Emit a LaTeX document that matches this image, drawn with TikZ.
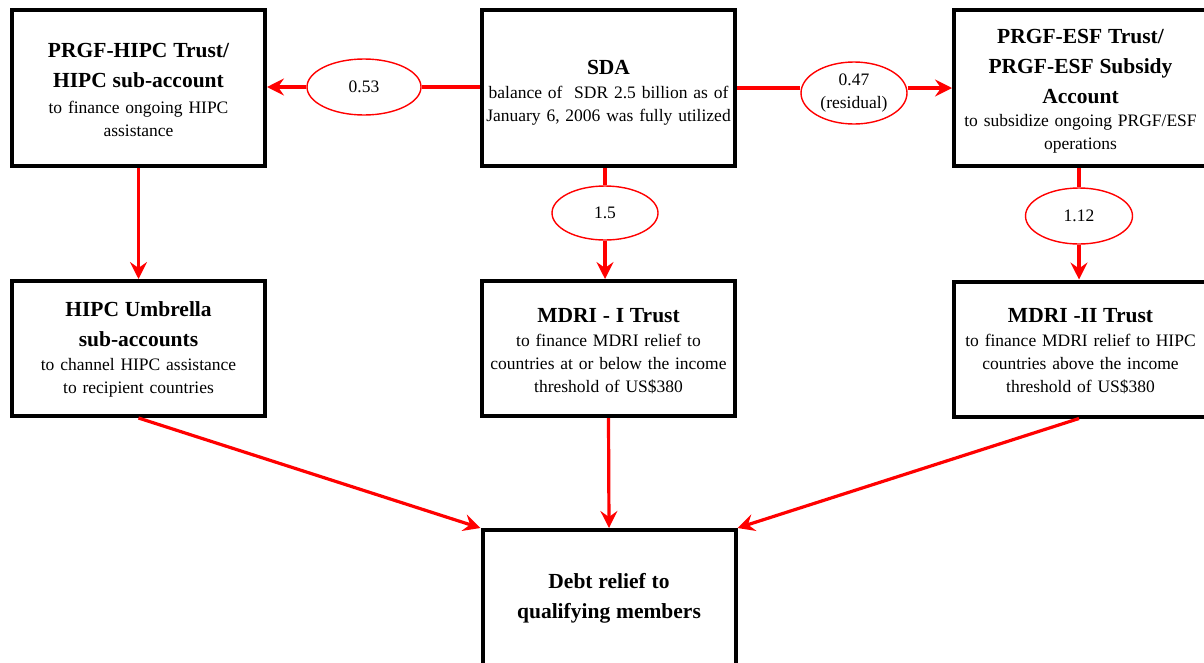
\documentclass[tikz,border=0pt]{standalone}
\usepackage{fontspec}
\setmainfont{Liberation Serif}
\usetikzlibrary{arrows.meta,shapes.geometric}

\newcommand{\ttl}{\fontsize{21.5}{30}\selectfont\bfseries}
\newcommand{\bdy}{\fontsize{17.5}{23}\selectfont}
% trims the bottom of a text block so that it sits lower in its box
\newcommand{\trimbottom}[1]{\par\nointerlineskip\vspace{-#1}\hbox{}}

\tikzset{
  fundbox/.style={draw=black, line width=4pt, fill=white, inner sep=0pt,
    minimum width=253pt, text width=253pt, align=center, font=\bdy},
  toprow/.style={fundbox, minimum height=156pt},
  midrow/.style={fundbox, minimum height=135pt},
  share/.style={ellipse, draw=red, line width=1.4pt, fill=white, inner sep=0pt,
    align=center, font=\bdy},
  flow/.style={red, line width=3.2pt},
  flowarrow/.style={flow, -{Stealth[length=17pt,width=17pt,inset=6pt]}}
}

\begin{document}
\begin{tikzpicture}[x=1pt,y=-1pt]
\clip (0,0) rectangle (1204,662);
\fill[white] (0,0) rectangle (1204,662);

% top row
\node[toprow] (hipc) at (138.5,88)
  {{\ttl PRGF-HIPC Trust/\\HIPC sub-account\par}\vspace{3pt}%
   {\bdy to finance ongoing HIPC\\assistance\trimbottom{4pt}}};
\node[toprow] (sda) at (608.5,88)
  {{\ttl SDA\par}\vspace{1pt}%
   {\bdy balance of\ \ SDR 2.5 billion as of\\January 6, 2006 was fully utilized\trimbottom{10pt}}};
\node[toprow] (esf) at (1080.5,88)
  {{\ttl PRGF-ESF Trust/\\PRGF-ESF Subsidy\\Account\par}%
   {\bdy to subsidize ongoing PRGF/ESF\\operations\trimbottom{6pt}}};

% middle row
\node[midrow] (umb) at (138.5,348.5)
  {{\ttl HIPC Umbrella\\sub-accounts\par}\vspace{1pt}%
   {\bdy to channel HIPC assistance\\to recipient countries\trimbottom{2pt}}};
\node[midrow] (mdri1) at (608.5,348.5)
  {{\ttl MDRI - I Trust\par}\vspace{1pt}%
   {\bdy to finance MDRI relief to\\countries at or below the income\\threshold of US\$380\trimbottom{5pt}}};
\node[midrow] (mdri2) at (1080.5,349)
  {{\ttl MDRI -II Trust\par}\vspace{1pt}%
   {\bdy to finance MDRI relief to HIPC\\countries above the income\\threshold of US\$380\trimbottom{5pt}}};

% bottom
\node[fundbox, minimum height=136pt] (debt) at (609,598)
  {{\ttl Debt relief to\\qualifying members\par}};

% shares of the SDA balance
\node[share, minimum width=114pt, minimum height=56pt] (s053) at (364,87) {0.53};
\node[share, minimum width=106pt, minimum height=62pt] (s047) at (854,93) {0.47\\(residual)};
\node[share, minimum width=106pt, minimum height=54pt] (s15) at (605,213) {1.5};
\node[share, minimum width=107pt, minimum height=56pt] (s112) at (1079,216) {1.12};

% flows
\draw[flow] (sda.west |- s053) -- (s053.east);
\draw[flowarrow] (s053.west) -- (hipc.east |- s053);
\draw[flow] (sda.east) -- (s047.west |- sda.east);
\draw[flowarrow] (s047.east |- sda.east) -- (esf.west);
\draw[flow] (sda.south -| s15) -- (s15.north);
\draw[flowarrow] (s15.south) -- (mdri1.north -| s15);
\draw[flow] (esf.south -| s112) -- (s112.north);
\draw[flowarrow] (s112.south) -- (mdri2.north -| s112);
\draw[flowarrow] (hipc.south) -- (umb.north);
\draw[flowarrow] (umb.south) -- (debt.north west);
\draw[flowarrow] (mdri1.south) -- (debt.north);
\draw[flowarrow] (mdri2.south -| s112) -- (debt.north east);
\end{tikzpicture}
\end{document}
